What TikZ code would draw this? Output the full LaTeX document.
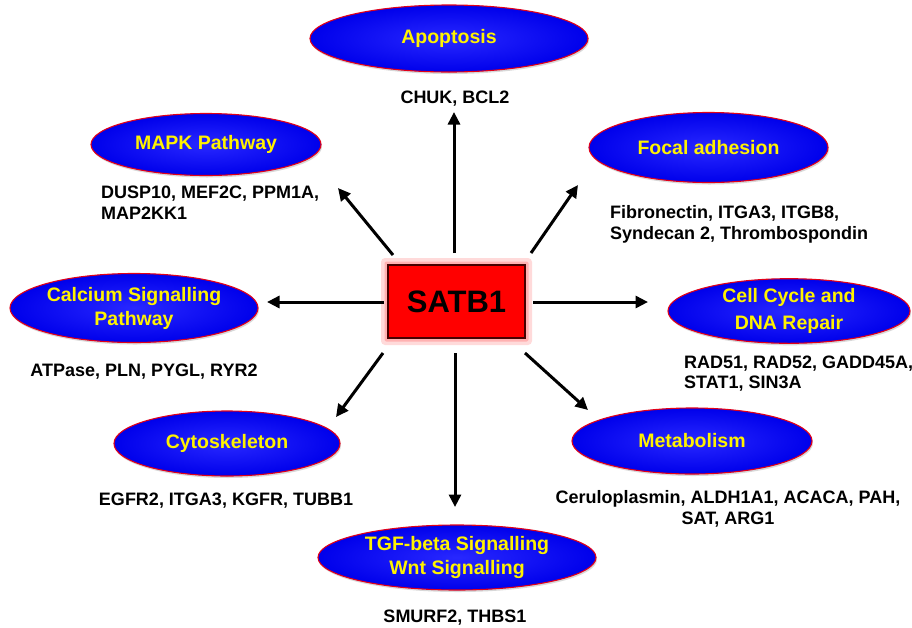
\documentclass[tikz,border=0pt]{standalone}
\usepackage{fontspec}
\setmainfont{Liberation Sans}
\usetikzlibrary{arrows.meta,shapes.geometric,shadows}
\definecolor{ellblue}{RGB}{0,0,235}
\definecolor{elllight}{RGB}{40,40,255}
\definecolor{ellred}{RGB}{225,0,25}
\definecolor{boxred}{RGB}{255,0,0}
\definecolor{boxedge}{RGB}{70,0,0}
\definecolor{glow}{RGB}{255,150,150}
\begin{document}
\begin{tikzpicture}[x=1pt,y=-1pt,
  bub/.style={ellipse, inner sep=0pt, draw=ellred, line width=1.1pt,
    inner color=elllight, outer color=ellblue, text=yellow,
    font=\fontsize{19.5}{24}\selectfont\bfseries, align=center,
    drop shadow={shadow xshift=1pt, shadow yshift=-2pt, opacity=0.3}},
  gene/.style={inner sep=0pt, font=\fontsize{18}{21}\selectfont\bfseries},
  arr/.style={line width=3pt, -{Triangle[length=12.5pt,width=12pt]}}
]
\useasboundingbox (0,0) rectangle (912,627);
\fill[white] (0,0) rectangle (912,627);

% glow and central box
\fill[glow, opacity=0.35, rounded corners=4pt] (381,258) rectangle (532,345);
\fill[glow, opacity=0.6, rounded corners=2pt] (384.5,261.5) rectangle (528.5,341.5);
\node[draw=boxedge, line width=1.5pt, fill=boxred, minimum width=137pt, minimum height=73pt,
  inner sep=0pt, font=\fontsize{31}{36}\selectfont\bfseries] (satb1) at (456.5,301.5) {SATB1};

% ellipses
\node[bub, minimum width=278pt, minimum height=67pt] (apop) at (449,38.5) {Apoptosis};
\node[bub, minimum width=230pt, minimum height=62pt] (mapk) at (206,144.5) {MAPK Pathway};
\node[bub, minimum width=239pt, minimum height=70pt] (focal) at (708.5,147.5) {Focal adhesion};
\node[bub, minimum width=248pt, minimum height=69pt] (calc) at (134,308) {Calcium Signalling\\Pathway};
\node[bub, minimum width=242pt, minimum height=64pt, font=\fontsize{19.5}{27.5}\selectfont\bfseries] (cell) at (789,311) {Cell Cycle and\\DNA Repair};
\node[bub, minimum width=226pt, minimum height=65pt] (cyto) at (227,443.5) {Cytoskeleton};
\node[bub, minimum width=240pt, minimum height=66pt] (metab) at (692,441) {Metabolism};
\node[bub, minimum width=278pt, minimum height=65pt] (tgf) at (457,557.5) {TGF-beta Signalling\\Wnt Signalling};

% gene lists
\node[gene, anchor=base] (gapop) at (455,103) {CHUK, BCL2};
\node[gene, align=left, anchor=west] (gmapk) at (101,202.5) {DUSP10, MEF2C, PPM1A,\\MAP2KK1};
\node[gene, align=left, anchor=west] (gfocal) at (610,224) {Fibronectin, ITGA3, ITGB8,\\Syndecan 2, Thrombospondin};
\node[gene, anchor=base] (gcalc) at (144,376) {ATPase, PLN, PYGL, RYR2};
\node[gene, align=left, anchor=west, font=\fontsize{18}{19.5}\selectfont\bfseries] (gcell) at (684,373.5) {RAD51, RAD52, GADD45A,\\STAT1, SIN3A};
\node[gene, anchor=base] (gcyto) at (226,505) {EGFR2, ITGA3, KGFR, TUBB1};
\node[gene, align=center] (gmetab) at (728,508.5) {Ceruloplasmin, ALDH1A1, ACACA, PAH,\\SAT, ARG1};
\node[gene, anchor=base] (gtgf) at (455,622) {SMURF2, THBS1};

% arrow end points
\coordinate (sU) at (454,253);  \coordinate (eU) at (454,112);
\coordinate (sM) at (393,255);  \coordinate (eM) at (338,188);
\coordinate (sF) at (531,253);  \coordinate (eF) at (578,185);
\coordinate (sL) at (384,302);  \coordinate (eL) at (267,302);
\coordinate (sR) at (533,302);  \coordinate (eR) at (648,302);
\coordinate (sC) at (383,353);  \coordinate (eC) at (336,417);
\coordinate (sD) at (455,353);  \coordinate (eD) at (455,507);
\coordinate (sB) at (525,353);  \coordinate (eB) at (588,410);

\draw[arr] (sU) -- (eU);
\draw[arr] (sM) -- (eM);
\draw[arr] (sF) -- (eF);
\draw[arr] (sL) -- (eL);
\draw[arr] (sR) -- (eR);
\draw[arr] (sC) -- (eC);
\draw[arr] (sD) -- (eD);
\draw[arr] (sB) -- (eB);
\end{tikzpicture}
\end{document}
